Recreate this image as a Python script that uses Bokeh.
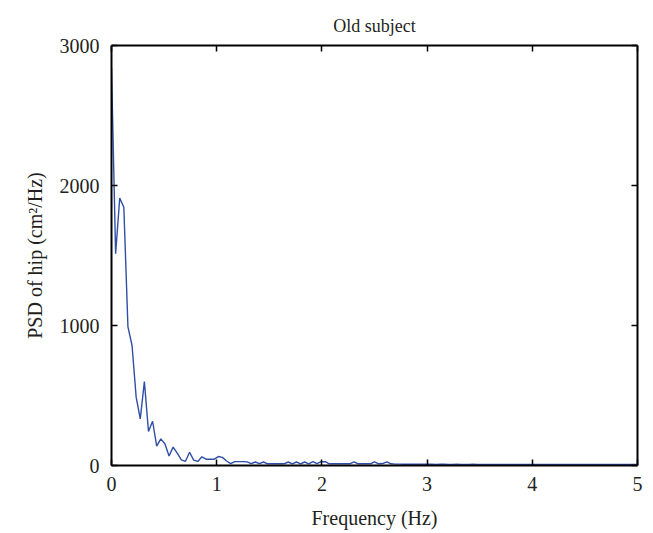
from bokeh.plotting import figure
from bokeh.models import LinearAxis, FixedTicker, Range1d, CustomJSTickFormatter
from bokeh.embed import file_html
from bokeh.resources import INLINE

# Power spectral density of the hip sway, old subject
freq_step = 5.0 / 128
psd = [
    2840, 1512, 1910, 1845, 990, 857, 488, 333, 600, 243,
    316, 138, 190, 155, 68, 131, 88, 40, 30, 95,
    38, 29, 62, 45, 45, 45, 64, 58, 32, 14,
    28, 28, 28, 26, 13, 25, 13, 25, 12, 12,
    12, 12, 12, 25, 12, 25, 12, 25, 12, 28,
    14, 28, 27, 12, 12, 12, 12, 12, 12, 26,
    12, 12, 12, 12, 26, 12, 14, 26, 12, 10,
    10, 9, 9, 10, 9, 9, 9, 9, 9, 8,
    9, 9, 8, 8, 9, 8, 8, 8, 9, 8,
    8, 8, 8, 8, 8, 8, 8, 8, 8, 8,
    8, 8, 8, 8, 8, 8, 8, 8, 8, 8,
    8, 8, 8, 8, 8, 8, 8, 8, 8, 8,
    8, 8, 8, 8, 8, 8, 8, 8, 7,
]
freq = [i * freq_step for i in range(len(psd))]

x_ticks = [0, 1, 2, 3, 4, 5]
y_ticks = [0, 1000, 2000, 3000]

FONT = "Liberation Serif"
TEXT = "#231f20"

p = figure(
    width=653, height=533,
    x_range=Range1d(0, 5), y_range=Range1d(0, 3000),
    output_backend="svg", toolbar_location=None,
    min_border_left=111, min_border_right=16,
    min_border_top=45, min_border_bottom=68,
    title="Old subject",
)
p.title.align = "center"
p.title.text_font = FONT
p.title.text_font_style = "normal"
p.title.text_font_size = "18px"
p.title.text_color = TEXT
p.title.standoff = 19
p.title.offset = 8

p.line(freq, psd, line_color="#2f4fa6", line_width=1.4)

p.grid.visible = False
p.outline_line_color = None
p.background_fill_color = "white"
p.border_fill_color = "white"

for ax, ticks in ((p.xaxis[0], x_ticks), (p.yaxis[0], y_ticks)):
    ax.ticker = FixedTicker(ticks=ticks)
    ax.major_tick_in = 6
    ax.major_tick_out = 0
    ax.minor_tick_line_color = None
    ax.axis_line_width = 2
    ax.axis_line_color = "black"
    ax.major_tick_line_width = 1.5
    ax.major_label_text_font = FONT
    ax.major_label_text_font_size = "20px"
    ax.major_label_text_color = TEXT
    ax.axis_label_text_font = FONT
    ax.axis_label_text_font_size = "20px"
    ax.axis_label_text_font_style = "normal"
    ax.axis_label_text_color = TEXT

p.xaxis[0].axis_label = "Frequency (Hz)"
p.xaxis[0].major_label_standoff = 11
p.xaxis[0].axis_label_standoff = 13
p.yaxis[0].axis_label = "PSD of hip (cm²/Hz)"
p.yaxis[0].major_label_standoff = 12
p.yaxis[0].axis_label_standoff = 11

# closing box: top and right axes with inward ticks, no labels
for loc, ticks in (("above", x_ticks), ("right", y_ticks)):
    box_ax = LinearAxis(
        ticker=FixedTicker(ticks=ticks),
        formatter=CustomJSTickFormatter(code="return ''"),
        major_tick_in=6, major_tick_out=0,
        minor_tick_line_color=None,
        axis_line_width=2, axis_line_color="black",
        major_tick_line_width=1.5,
        major_label_standoff=0,
    )
    p.add_layout(box_ax, loc)

open("out.html", "w").write(file_html(p, INLINE))
